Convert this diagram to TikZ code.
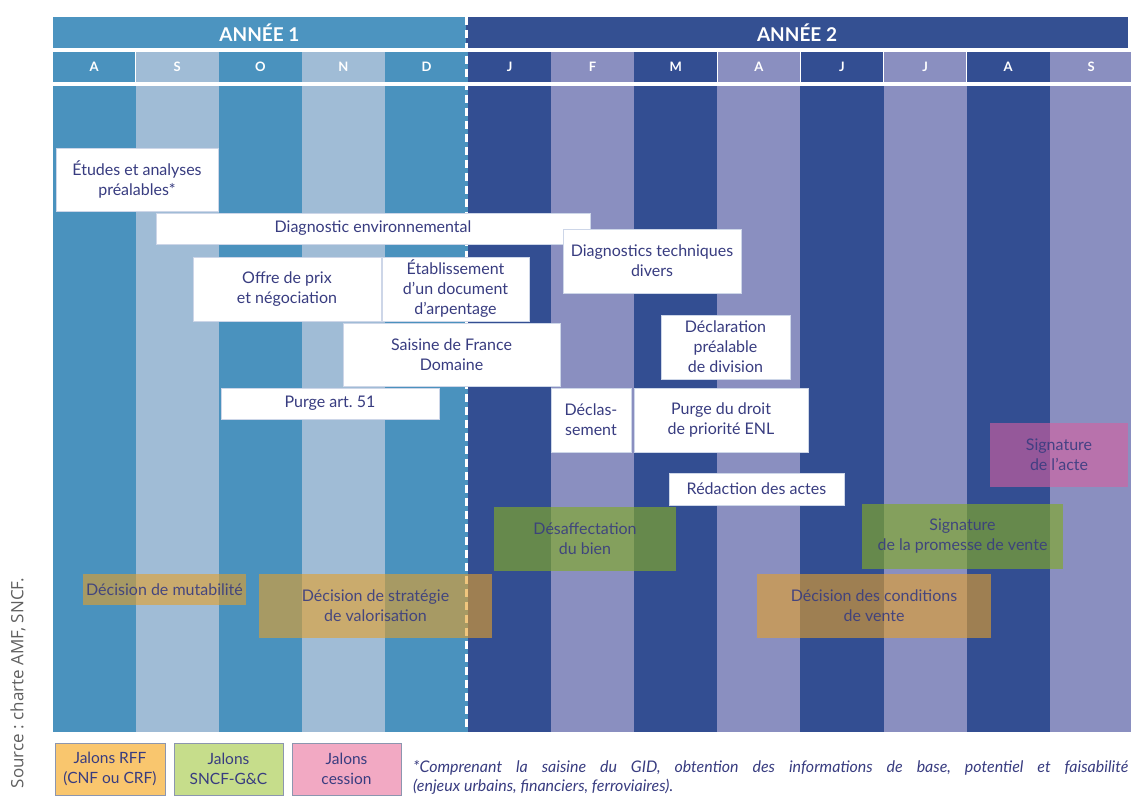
\documentclass[tikz,border=0pt]{standalone}
\usepackage{fontspec}
\setmainfont{Lato}
\newfontfamily\sourcefont{Open Sans}
\usetikzlibrary{positioning}
\frenchspacing
\definecolor{an1fonce}{RGB}{74,146,190}
\definecolor{an1clair}{RGB}{160,188,214}
\definecolor{an2fonce}{RGB}{51,78,146}
\definecolor{an2clair}{RGB}{138,143,192}
\definecolor{an1tete}{RGB}{76,148,192}
\definecolor{an2tete}{RGB}{52,80,146}
\definecolor{texte}{RGB}{56,60,128}
\definecolor{cadre}{RGB}{205,214,232}
\definecolor{orangejalon}{RGB}{230,160,40}
\definecolor{vertjalon}{RGB}{130,170,40}
\definecolor{rosejalon}{RGB}{215,95,160}
\definecolor{orangelegende}{RGB}{249,198,110}
\definecolor{vertlegende}{RGB}{198,221,139}
\definecolor{roselegende}{RGB}{242,169,195}
\definecolor{bordlegende}{RGB}{140,150,175}
\definecolor{gris}{RGB}{95,95,95}
\tikzset
{
    tache/.style     = {rectangle, fill=white, draw=cadre, line width=0.5pt, align=center, inner sep=0pt, text=texte, font=\fontsize{16}{20}\selectfont},
    jalon/.style     = {rectangle, align=center, inner sep=0pt, text=texte, fill opacity=0.6, text opacity=0.9, font=\fontsize{16}{20}\selectfont},
    jalonrff/.style  = {jalon, fill=orangejalon},
    jalonsncf/.style = {jalon, fill=vertjalon, fill opacity=0.65},
    jaloncession/.style = {jalon, fill=rosejalon},
    legende/.style   = {rectangle, draw=bordlegende, line width=0.8pt, align=center, inner sep=0pt, minimum height=52pt, text=texte, font=\fontsize{15.5}{19.5}\selectfont},
    annee/.style     = {rectangle, inner sep=0pt, minimum height=31pt, text=white, font=\fontsize{19}{22}\selectfont\bfseries},
    mois/.style      = {rectangle, inner sep=0pt, minimum width=82.7pt, minimum height=30pt, text=white, font=\fontsize{13}{15}\selectfont\bfseries},
    separation/.style = {white, line width=2.5pt, dash pattern=on 8pt off 5pt}
}

\begin{document}
\begin{tikzpicture}[x=1pt, y=-1pt]

	 \useasboundingbox (0,0) rectangle (1131,796);
	 \coordinate (bas) at (0,732);

	 % annees
	 \node (a1) [annee, fill=an1tete, minimum width=413.5pt] at (259.45,32.5) {ANNÉE 1};
	 \node (a2) [annee, fill=an2tete, minimum width=661.6pt] at (797,32.5)    {ANNÉE 2};

	 % mois
	 \node (m1)  [mois, fill=an1fonce]                 at (94.05,67) {A};
	 \node (m2)  [mois, fill=an1clair, right=0pt of m1]  {S};
	 \node (m3)  [mois, fill=an1fonce, right=0pt of m2]  {O};
	 \node (m4)  [mois, fill=an1clair, right=0pt of m3]  {N};
	 \node (m5)  [mois, fill=an1fonce, right=0pt of m4]  {D};
	 \node (m6)  [mois, fill=an2fonce, right=0pt of m5]  {J};
	 \node (m7)  [mois, fill=an2clair, right=0pt of m6]  {F};
	 \node (m8)  [mois, fill=an2fonce, right=0pt of m7]  {M};
	 \node (m9)  [mois, fill=an2clair, right=0pt of m8]  {A};
	 \node (m10) [mois, fill=an2fonce, right=0pt of m9]  {J};
	 \node (m11) [mois, fill=an2clair, right=0pt of m10] {J};
	 \node (m12) [mois, fill=an2fonce, right=0pt of m11] {A};
	 \node (m13) [mois, fill=an2clair, right=0pt of m12] {S};

	 \fill[an1fonce] ([yshift=-4pt]m1.south west)  rectangle (m1.south east |- bas);
	 \fill[an1clair] ([yshift=-4pt]m2.south west)  rectangle (m2.south east |- bas);
	 \fill[an1fonce] ([yshift=-4pt]m3.south west)  rectangle (m3.south east |- bas);
	 \fill[an1clair] ([yshift=-4pt]m4.south west)  rectangle (m4.south east |- bas);
	 \fill[an1fonce] ([yshift=-4pt]m5.south west)  rectangle (m5.south east |- bas);
	 \fill[an2fonce] ([yshift=-4pt]m6.south west)  rectangle (m6.south east |- bas);
	 \fill[an2clair] ([yshift=-4pt]m7.south west)  rectangle (m7.south east |- bas);
	 \fill[an2fonce] ([yshift=-4pt]m8.south west)  rectangle (m8.south east |- bas);
	 \fill[an2clair] ([yshift=-4pt]m9.south west)  rectangle (m9.south east |- bas);
	 \fill[an2fonce] ([yshift=-4pt]m10.south west) rectangle (m10.south east |- bas);
	 \fill[an2clair] ([yshift=-4pt]m11.south west) rectangle (m11.south east |- bas);
	 \fill[an2fonce] ([yshift=-4pt]m12.south west) rectangle (m12.south east |- bas);
	 \fill[an2clair] ([yshift=-4pt]m13.south west) rectangle (m13.south east |- bas);

	 \draw[separation] (a1.north east) -- (a1.east |- bas);

	 % taches
	 \node (etudes)  [tache, minimum width=162pt, minimum height=63pt] at (137,179.5)   {Études et analyses\\préalables*};
	 \node (diagenv) [tache, minimum width=434pt, minimum height=31pt] at (373,228.5)   {Diagnostic environnemental};
	 \node (diagtec) [tache, minimum width=178pt, minimum height=64pt] at (652,261)     {Diagnostics techniques\\divers};
	 \node (offre)   [tache, minimum width=188pt, minimum height=64pt] at (287,289)     {Offre de prix\\et négociation};
	 \node (arpent)  [tache, minimum width=147pt, minimum height=64pt] at (455.5,289)   {Établissement\\d’un document\\d’arpentage};
	 \node (saisine) [tache, minimum width=217pt, minimum height=63pt] at (451.5,354.5) {Saisine de France\\Domaine};
	 \node (declar)  [tache, minimum width=129pt, minimum height=64pt] at (725.5,347)   {Déclaration\\préalable\\de division};
	 \node (purge)   [tache, minimum width=218pt, minimum height=31pt] at (330,403.5)   {Purge art. 51};
	 \node (declas)  [tache, minimum width=80pt,  minimum height=64pt] at (591,420)     {Déclas-\\sement};
	 \node (enl)     [tache, minimum width=174pt, minimum height=64pt] at (721,420)     {Purge du droit\\de priorité ENL};
	 \node (redac)   [tache, minimum width=175pt, minimum height=32pt] at (756.5,489)   {Rédaction des actes};

	 % jalons
	 \node (acte)    [jaloncession, minimum width=138pt, minimum height=64pt] at (1059,455)  {Signature\\de l’acte};
	 \node (desaff)  [jalonsncf, minimum width=182pt, minimum height=64pt] at (585,539)      {Désaffectation\\du bien};
	 \node (promes)  [jalonsncf, minimum width=201pt, minimum height=65pt] at (962.5,536.5) {Signature\\de la promesse de vente};
	 \node (mutab)   [jalonrff, minimum width=163pt, minimum height=31pt] at (164.5,589.5)  {Décision de mutabilité};
	 \node (strat)   [jalonrff, minimum width=233pt, minimum height=64pt] at (375.5,606)    {Décision de stratégie\\de valorisation};
	 \node (condit)  [jalonrff, minimum width=234pt, minimum height=64pt] at (874,606)      {Décision des conditions\\de vente};

	 % legende
	 \node (lrff)    [legende, fill=orangelegende, minimum width=110pt] at (110,769)   {Jalons RFF\\(CNF ou CRF)};
	 \node (lsncf)   [legende, fill=vertlegende,   minimum width=109pt] at (228.5,769) {Jalons\\SNCF-G\&C};
	 \node (lcess)   [legende, fill=roselegende,   minimum width=109pt] at (346.5,769) {Jalons\\cession};

	 \node (note) [anchor=north west, inner sep=0pt, align=left, text=texte, font=\itshape\fontsize{16}{19}\selectfont] at (413,760)
	    {\makebox[715pt][s]{*Comprenant la saisine du GID, obtention des informations de base, potentiel et faisabilité}\\(enjeux urbains, financiers, ferroviaires).};

	 \node (source) [rotate=90, inner sep=0pt, text=gris, font=\sourcefont\fontsize{17}{19}\selectfont] at (18,683) {Source : charte AMF, SNCF.};

\end{tikzpicture}
\end{document}
